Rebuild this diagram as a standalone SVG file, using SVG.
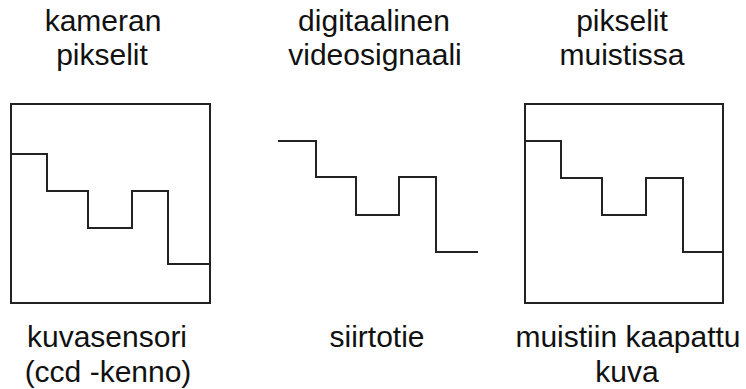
<svg xmlns="http://www.w3.org/2000/svg" width="746" height="389" viewBox="0 0 746 389">
<style>
  .frame { fill: none; stroke: #222; stroke-width: 2; }
  .sig { fill: none; stroke: #222; stroke-width: 2; stroke-linejoin: miter; }
  text { font-family: "Liberation Sans", Arial, sans-serif; font-size: 30px; fill: #111; text-anchor: middle; }
</style>
<rect width="746" height="389" fill="#fff"/>
<g id="camera">
  <text x="103" y="31">kameran</text>
  <text x="102" y="65">pikselit</text>
  <rect class="frame" x="11" y="104" width="199" height="199"/>
  <polyline class="sig" points="11,154 47,154 47,191 88,191 88,228 132,228 132,191 168,191 168,264 210,264"/>
  <text x="107" y="347">kuvasensori</text>
  <text x="108" y="382">(ccd -kenno)</text>
</g>
<g id="channel">
  <text x="374" y="31">digitaalinen</text>
  <text x="375" y="65">videosignaali</text>
  <polyline class="sig" points="278,141 316,141 316,177 356,177 356,215 399,215 399,177 436,177 436,252 478,252"/>
  <text x="377" y="347">siirtotie</text>
</g>
<g id="memory">
  <text x="622" y="31">pikselit</text>
  <text x="622" y="65">muistissa</text>
  <rect class="frame" x="525" y="104" width="198" height="199"/>
  <polyline class="sig" points="525,141 561,141 561,178 602,178 602,215 646,215 646,178 683,178 683,252 723,252"/>
  <text x="628" y="347">muistiin kaapattu</text>
  <text x="627" y="382">kuva</text>
</g>
</svg>
